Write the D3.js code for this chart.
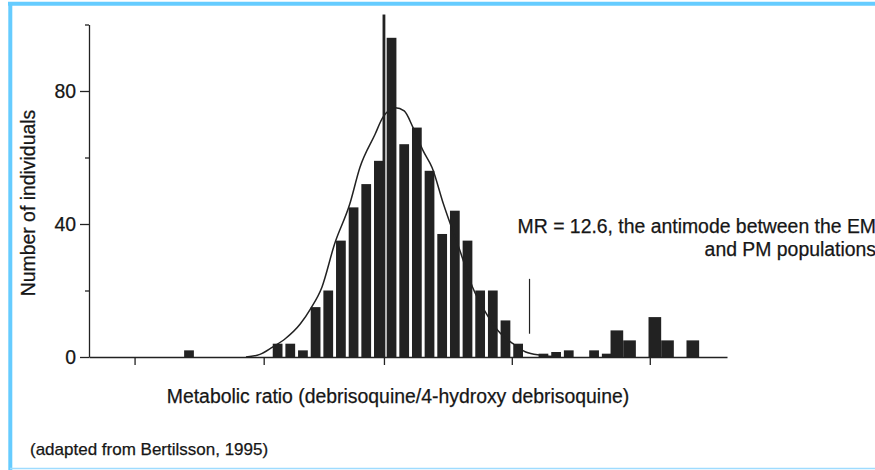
<!DOCTYPE html>
<meta charset="utf-8">
<head>
    <style>
        body {
            margin: 0;
            background: #fff;
            font-family: "Liberation Sans", Arial, Helvetica, sans-serif;
        }

        svg text {
            fill: #161616;
            stroke: #161616;
            stroke-width: 0.25;
        }

        .axis path,
        .axis line {
            stroke: #222;
            stroke-width: 1.3;
            fill: none;
        }

        .axis text {
            font-family: "Liberation Sans", Arial, Helvetica, sans-serif;
            font-size: 19.4px;
        }

        .bar {
            fill: #222;
        }

        .fit {
            fill: none;
            stroke: #222;
            stroke-width: 1.5;
        }
    </style>
</head>
<body>
    <div id="chart"></div>
    <script src="https://cdn.jsdelivr.net/npm/d3@7"></script>
    <script>
        // x is log10(metabolic ratio); bins of 0.1
        var emCenters = [-1.55, -0.85, -0.75, -0.65, -0.55, -0.45, -0.35, -0.25, -0.15, -0.05, 0.05,
            0.15, 0.25, 0.35, 0.45, 0.55, 0.65, 0.75, 0.85, 0.95, 1.05, 1.25, 1.35, 1.45, 1.65, 1.75];
        var emCounts = [2, 4, 4, 2, 15, 20, 35, 45, 52, 59, 96,
            64, 69, 56, 37, 44, 35, 20, 20, 11, 4, 1, 1.5, 2, 2, 1];

        // poor metabolisers, drawn as full width bars
        var pmCenters = [1.85, 1.95, 2.15, 2.25, 2.45];
        var pmCounts = [8, 5, 12, 5, 5];

        // the thin spike at MR = 1
        var spikeAt = -0.01, spikeCount = 103;

        // fitted curve
        var curveX = [-1.10, -0.99, -0.89, -0.79, -0.67, -0.59, -0.50, -0.40, -0.28, -0.20, -0.08, -0.02,
            0.08, 0.15, 0.22, 0.30, 0.37, 0.46, 0.59, 0.69, 0.80, 0.89, 1.01, 1.11, 1.23, 1.38];
        var curveY = [0, 0.8, 3, 5.5, 10, 14.5, 21, 34, 46, 57, 67, 72,
            75, 74, 69, 62, 57, 46, 32, 21, 13, 8, 4, 1.5, 0.5, 0];

        var xTicks = [-1.98, -0.96, -0.01, 1.0, 2.09];
        var yMajor = [0, 40, 80];
        var yMinor = [20, 60, 100];

        var antimodeX = 1.14, antimodeY = [7, 23.5];

        var width = 875, height = 470;

        var svg = d3.select("#chart").append("svg")
            .attr("width", width)
            .attr("height", height)
            .style("display", "block");

        // light blue frame
        svg.append("line").attr("x1", 8).attr("x2", width).attr("y1", 3.7).attr("y2", 3.7)
            .attr("stroke", "#66ccff").attr("stroke-width", 4);
        svg.append("line").attr("x1", 10.3).attr("x2", 10.3).attr("y1", 2).attr("y2", height)
            .attr("stroke", "#66ccff").attr("stroke-width", 4);
        svg.append("line").attr("x1", 10).attr("x2", width).attr("y1", 468.5).attr("y2", 468.5)
            .attr("stroke", "#9edcff").attr("stroke-width", 1.5);

        var x = d3.scaleLinear().domain([-2.34, 2.70]).range([89, 727]);
        var y = d3.scaleLinear().domain([0, 100]).range([357, 24.5]);

        var binW = x(0.1) - x(0);

        // bars
        svg.append("g").selectAll("rect")
            .data(emCenters)
            .enter().append("rect")
            .attr("class", "bar")
            .attr("x", function (d) { return x(d) - binW * 0.385; })
            .attr("width", binW * 0.77)
            .attr("y", function (d, i) { return y(emCounts[i]); })
            .attr("height", function (d, i) { return y(0) - y(emCounts[i]); });

        svg.append("g").selectAll("rect")
            .data(pmCenters)
            .enter().append("rect")
            .attr("class", "bar")
            .attr("x", function (d) { return x(d) - binW * 0.7; })
            .attr("width", binW)
            .attr("y", function (d, i) { return y(pmCounts[i]); })
            .attr("height", function (d, i) { return y(0) - y(pmCounts[i]); });

        svg.append("rect")
            .attr("class", "bar")
            .attr("x", x(spikeAt) - 1.4)
            .attr("width", 2.8)
            .attr("y", y(spikeCount))
            .attr("height", y(0) - y(spikeCount));

        // fitted curve
        var line = d3.line()
            .x(function (d) { return x(d[0]); })
            .y(function (d) { return y(d[1]); })
            .curve(d3.curveMonotoneX);

        svg.append("path")
            .datum(d3.zip(curveX, curveY))
            .attr("class", "fit")
            .attr("d", line);

        // axes
        svg.append("g")
            .attr("class", "axis")
            .attr("transform", "translate(0," + y(0) + ")")
            .call(d3.axisBottom(x).tickValues(xTicks).tickSize(8).tickSizeOuter(0).tickFormat(""));

        svg.append("g")
            .attr("class", "axis")
            .attr("transform", "translate(" + x.range()[0] + ",0)")
            .call(d3.axisLeft(y).tickValues(yMajor).tickSize(9).tickPadding(4).tickSizeOuter(0));

        svg.append("g")
            .attr("class", "axis")
            .attr("transform", "translate(" + x.range()[0] + ",0)")
            .call(d3.axisLeft(y).tickValues(yMinor).tickSize(4).tickSizeOuter(0).tickFormat(""))
            .call(function (g) { g.select(".domain").remove(); });

        // antimode marker
        svg.append("line")
            .attr("x1", x(antimodeX)).attr("x2", x(antimodeX))
            .attr("y1", y(antimodeY[0])).attr("y2", y(antimodeY[1]))
            .attr("stroke", "#222").attr("stroke-width", 1.2);

        svg.append("text")
            .attr("x", 876).attr("y", 233)
            .attr("text-anchor", "end")
            .style("font-size", "19.4px")
            .text("MR = 12.6, the antimode between the EM");
        svg.append("text")
            .attr("x", 876).attr("y", 256)
            .attr("text-anchor", "end")
            .style("font-size", "19.4px")
            .text("and PM populations");

        // labels
        svg.append("text")
            .attr("x", 398).attr("y", 403)
            .attr("text-anchor", "middle")
            .style("font-size", "19.4px")
            .text("Metabolic ratio (debrisoquine/4-hydroxy debrisoquine)");

        svg.append("text")
            .attr("transform", "translate(35,203) rotate(-90)")
            .attr("text-anchor", "middle")
            .style("font-size", "19.4px")
            .text("Number of individuals");

        svg.append("text")
            .attr("x", 30).attr("y", 455)
            .style("font-size", "17px")
            .text("(adapted from Bertilsson, 1995)");
    </script>
</body>
